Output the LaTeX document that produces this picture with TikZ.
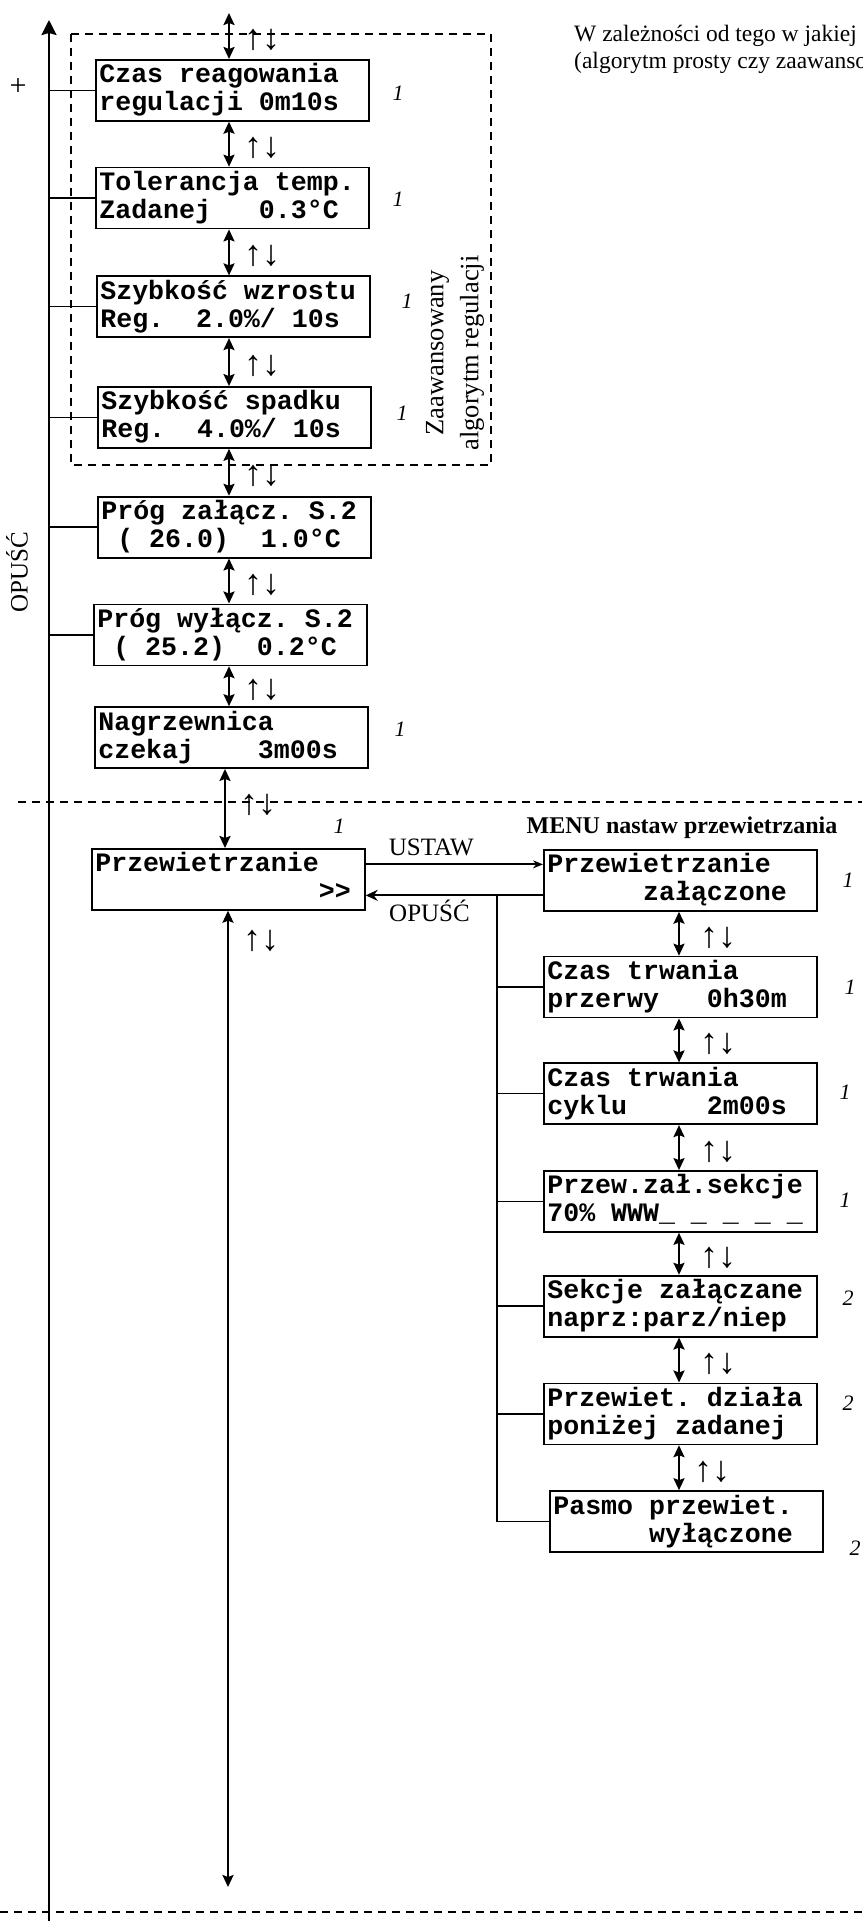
\documentclass[tikz,border=0pt]{standalone}
\usepackage{fontspec}
\setmainfont{Liberation Serif}
\newfontfamily\lcdfont{Liberation Mono}
\usetikzlibrary{arrows.meta,positioning,calc}

% two rows of the display
\newcommand{\lcd}[2]{\spaceskip=\fontcharwd\font`0\relax
  \rule{0pt}{23pt}#1\\#2\rule[-10pt]{0pt}{10pt}}
\newcommand{\blank}[1]{\hspace*{#1\fontcharwd\font`0}}

\begin{document}
\frenchspacing
\begin{tikzpicture}[x=1pt,y=-1pt,>={Stealth[length=12pt,width=11pt,inset=2pt]},
  node distance=45pt,
  lcd box/.style={draw,line width=1.7pt,anchor=north west,inner xsep=3.5pt,inner ysep=0pt,
    text width=266pt,align=left,font=\lcdfont\bfseries\fontsize{26.6pt}{28pt}\selectfont},
  dbl/.style={<->,line width=2.2pt},
  branch/.style={line width=1.4pt},
  sect/.style={line width=1.5pt,dash pattern=on 8pt off 6pt},
  updn/.style={font=\fontsize{36pt}{36pt}\selectfont,inner sep=0pt,right=#1,yshift=-4pt},
  updn/.default=14pt,
  num/.style={font=\itshape\fontsize{22pt}{22pt}\selectfont,inner sep=0pt},
  lbl/.style={font=\fontsize{25pt}{30pt}\selectfont}]

  \useasboundingbox (0,0) rectangle (862,1921);
  \clip (0,0) rectangle (862,1921);

  % menu on the left
  \node[lcd box] (b1) at (95,59) {\lcd{Czas reagowania}{regulacji 0m10s}};
  \node[lcd box,below=45pt of b1] (b2) {\lcd{Tolerancja temp.}{Zadanej~~~0.3°C}};
  \node[lcd box,below=46pt of b2,xshift=1pt] (b3) {\lcd{Szybkość wzrostu}{Reg.~~2.0\%/ 10s}};
  \node[lcd box,below=48pt of b3,xshift=1pt] (b4) {\lcd{Szybkość spadku}{Reg.~~4.0\%/ 10s}};
  \node[lcd box,below=47pt of b4] (b5) {\lcd{Próg załącz. S.2}{\blank{1}( 26.0)~~1.0°C}};
  \node[lcd box,below=45pt of b5,xshift=-4pt] (b6) {\lcd{Próg wyłącz. S.2}{\blank{1}( 25.2)~~0.2°C}};
  \node[lcd box,below=40pt of b6,xshift=1pt] (b7) {\lcd{Nagrzewnica}{czekaj~~~~3m00s}};
  \node[lcd box] (P) at (91,848) {\lcd{Przewietrzanie}{\blank{14}>>}};

  % menu on the right
  \node[lcd box] (R1) at (543,849) {\lcd{Przewietrzanie}{\blank{6}załączone}};
  \node[lcd box,below=44pt of R1] (R2) {\lcd{Czas trwania}{przerwy~~~0h30m}};
  \node[lcd box,below=44pt of R2] (R3) {\lcd{Czas trwania}{cyklu~~~~~2m00s}};
  \node[lcd box,below=45pt of R3] (R4) {\lcd{Przew.zał.sekcje}{70\% WWW\_ \_ \_ \_ \_}};
  \node[lcd box,below=42pt of R4] (R5) {\lcd{Sekcje załączane}{naprz:parz/niep}};
  \node[lcd box,below=45pt of R5] (R6) {\lcd{Przewiet. działa}{poniżej zadanej}};
  \node[lcd box,below=45pt of R6,xshift=6pt] (R7) {\lcd{Pasmo przewiet.}{\blank{6}wyłączone}};

  \coordinate (mtop) at (49,20);
  \coordinate (mbot) at (49,1921);
  \coordinate (lx) at (229,0);
  \coordinate (qx) at (225,0);
  \coordinate (px) at (228,0);
  \coordinate (rx) at (679,0);
  \coordinate (vx) at (497,0);
  \coordinate (topin) at (229,13);
  \coordinate (pend) at (228,1887);
  \coordinate (ub) at ([yshift=15pt]P.east);
  \coordinate (ob) at ([yshift=-15pt]R1.west);

  \draw[line width=2.3pt,-{Stealth[length=15pt,width=15pt,inset=2pt]}] (mbot) -- (mtop);
  \foreach \b in {b1,b2,b3,b4,b5,b6}
    \draw[branch] (\b.west) -- (\b.west -| mtop);

  \path[dbl]
    (topin) edge node[updn] {↑↓} (b1.north -| lx)
    (b1.south -| lx) edge node[updn] {↑↓} (b2.north -| lx)
    (b2.south -| lx) edge node[updn] {↑↓} (b3.north -| lx)
    (b3.south -| lx) edge node[updn] {↑↓} (b4.north -| lx)
    (b4.south -| lx) edge node[updn] {↑↓} (b5.north -| lx)
    (b5.south -| lx) edge node[updn] {↑↓} (b6.north -| lx)
    (b6.south -| lx) edge node[updn] {↑↓} (b7.north -| lx)
    (b7.south -| qx) edge node[updn,pos=0.4] {↑↓} (P.north -| qx)
    (P.south -| px) edge node[updn,pos=0.027] {↑↓} (pend);

  \path[dbl]
    (R1.south -| rx) edge node[updn=20pt] {↑↓} (R2.north -| rx)
    (R2.south -| rx) edge node[updn=20pt] {↑↓} (R3.north -| rx)
    (R3.south -| rx) edge node[updn=20pt] {↑↓} (R4.north -| rx)
    (R4.south -| rx) edge node[updn=20pt] {↑↓} (R5.north -| rx)
    (R5.south -| rx) edge node[updn=20pt] {↑↓} (R6.north -| rx)
    (R6.south -| rx) edge node[updn=14pt] {↑↓} (R7.north -| rx);

  \draw[line width=2.2pt,-{Stealth[length=10pt,width=8pt]}] (ub) -- (ub -| R1.west)
    node[lbl,pos=0.37,above=4pt] {USTAW};
  \draw[line width=2.2pt,-{Stealth[length=12pt,width=11pt]}] (ob) -- (ob -| P.east)
    node[lbl,pos=0.64,below] {OPUŚĆ};
  \draw[branch] (ob -| vx) -- (R7.west -| vx);
  \foreach \r in {R2,R3,R4,R5,R6,R7}
    \draw[branch] (\r.west) -- (\r.west -| vx);

  \draw[sect] (71,34) rectangle (491,465);
  \draw[sect] (18,802) -- (862,802);
  \draw[sect] (0,1912) -- (862,1912);

  % texts
  \node[lbl,font=\fontsize{30pt}{30pt}\selectfont] (plus) at (18,87) {+};
  \node[lbl,rotate=90] (back) at (17,572) {OPUŚĆ};
  \node[lbl,rotate=90,align=center,font=\fontsize{26.5pt}{35pt}\selectfont] (adv) at (455,353)
    {Zaawansowany\\algorytm regulacji};
  \node[font=\bfseries\fontsize{24pt}{24pt}\selectfont,anchor=base] (menu) at (682,833)
    {MENU nastaw przewietrzania};
  \node[font=\fontsize{23.5pt}{27pt}\selectfont,anchor=base west,inner sep=0pt] (note1) at (574,42)
    {W zależności od tego w jakiej};
  \node[font=\fontsize{23.5pt}{27pt}\selectfont,anchor=base west,inner sep=0pt] (note2) at (574,69)
    {(algorytm prosty czy zaawanso};

  \node[num] at (398,93) {1};
  \node[num] at (398,199) {1};
  \node[num] at (407,301) {1};
  \node[num] at (402,413) {1};
  \node[num] at (400,729) {1};
  \node[num] at (339,826) {1};
  \node[num] at (848,880) {1};
  \node[num] at (850,987) {1};
  \node[num] at (845,1092) {1};
  \node[num] at (845,1200) {1};
  \node[num] at (848,1298) {2};
  \node[num] at (848,1403) {2};
  \node[num] at (855,1548) {2};
\end{tikzpicture}
\end{document}
